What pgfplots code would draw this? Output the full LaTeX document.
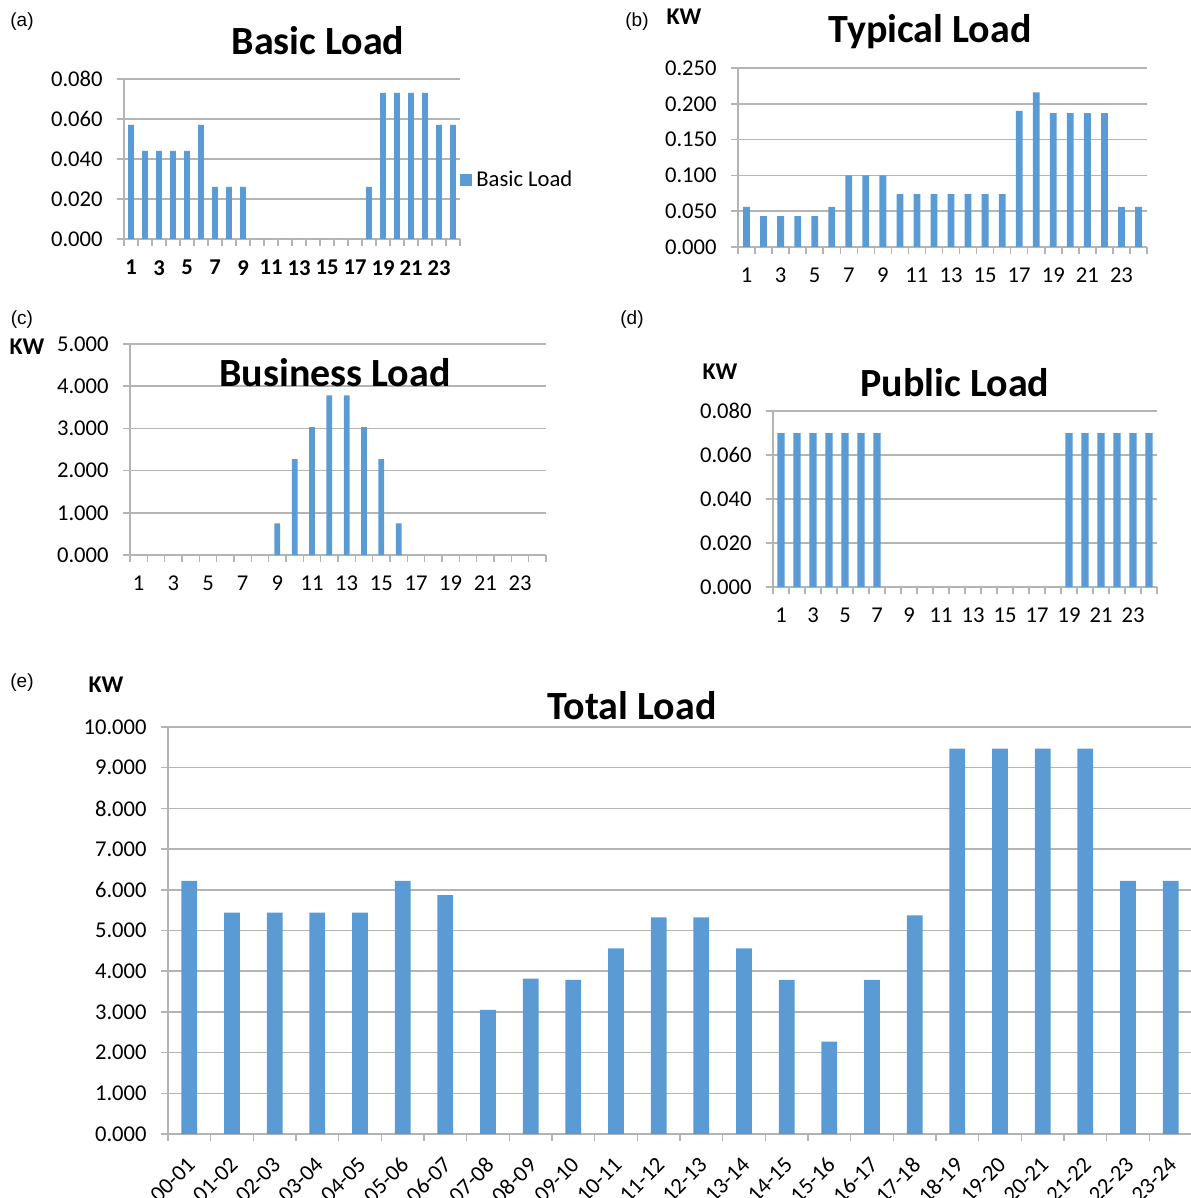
\documentclass[border=0pt]{standalone}
\usepackage{pgfplots}
\pgfplotsset{compat=1.18}
\usepackage{fontspec}
\setmainfont{Carlito}
\newfontfamily\arialfont{Liberation Sans}
\definecolor{barblue}{RGB}{91,155,213}
\definecolor{gridgray}{RGB}{180,180,180}
\newcommand{\tickfont}{\fontsize{11.3}{13}\selectfont}
\newcommand{\titlefont}{\fontsize{20}{24}\selectfont\bfseries}
\newcommand{\kwfont}{\fontsize{12}{14}\selectfont\bfseries}
\newcommand{\panelfont}{\arialfont\fontsize{9.5}{11}\selectfont}

\pgfplotsset{
  loadstyle/.style={
    scale only axis,
    anchor=south west,
    ybar, bar width=0.4,
    xmin=0.5, xmax=24.5, ymin=0,
    enlargelimits=false,
    scaled y ticks=false,
    axis x line*=bottom, axis y line*=left,
    axis line style={gridgray, line width=0.75pt},
    ymajorgrids, grid style={gridgray, line width=0.75pt},
    tick align=outside,
    major tick length=3.5pt,
    tick style={gridgray, line width=0.75pt},
    xtick={0.5,1.5,...,24.5}, xticklabels={},
    extra x ticks={1,3,...,23},
    extra x tick labels={1,3,5,7,9,11,13,15,17,19,21,23},
    extra x tick style={major tick length=0pt,
      xticklabel style={anchor=north, inner sep=0pt, yshift=-10.4pt}},
    tick label style={font=\tickfont},
    yticklabel style={anchor=east, inner sep=0pt, xshift=-7pt},
    /pgf/number format/assume math mode=true,
  },
}

\begin{document}
\begin{tikzpicture}
\useasboundingbox (0pt,0pt) rectangle (595pt,-599pt);

% (a) Basic Load
\begin{axis}[loadstyle, at={(62pt,-119.5pt)}, width=168pt, height=80pt,
  ymax=0.08, ytick={0,0.02,0.04,0.06,0.08},
  yticklabels={0.000,0.020,0.040,0.060,0.080},
  extra x tick labels={\textbf{1},\textbf{3},\textbf{5},\textbf{7},\textbf{9},\textbf{11},\textbf{13},\textbf{15},\textbf{17},\textbf{19},\textbf{21},\textbf{23}},
  legend style={draw=none, fill=none, at={(1,0.369)}, anchor=west,
    font=\tickfont, inner sep=0pt},
  ]
\addplot[fill=barblue, draw=none,
  legend image code/.code={\fill[barblue] (0pt,-3pt) rectangle (6pt,3pt);}]
  coordinates {(1,0.057) (2,0.044) (3,0.044) (4,0.044) (5,0.044) (6,0.057)
  (7,0.026) (8,0.026) (9,0.026) (10,0) (11,0) (12,0) (13,0) (14,0) (15,0)
  (16,0) (17,0) (18,0.026) (19,0.073) (20,0.073) (21,0.073) (22,0.073)
  (23,0.057) (24,0.057)};
\addlegendentry{Basic Load}
\end{axis}

% (b) Typical Load
\begin{axis}[loadstyle, at={(369pt,-123.5pt)}, width=204.5pt, height=89.5pt,
  ymax=0.25, ytick={0,0.05,0.1,0.15,0.2,0.25},
  yticklabels={0.000,0.050,0.100,0.150,0.200,0.250},
  ]
\addplot[fill=barblue, draw=none]
  coordinates {(1,0.056) (2,0.043) (3,0.043) (4,0.043) (5,0.043) (6,0.056)
  (7,0.100) (8,0.100) (9,0.100) (10,0.074) (11,0.074) (12,0.074) (13,0.074)
  (14,0.074) (15,0.074) (16,0.074) (17,0.190) (18,0.216) (19,0.187)
  (20,0.187) (21,0.187) (22,0.187) (23,0.056) (24,0.056)};
\end{axis}

% (c) Business Load
\begin{axis}[loadstyle, at={(65pt,-277.5pt)}, width=208pt, height=105.5pt,
  bar width=0.33,
  ymax=5, ytick={0,1,2,3,4,5},
  yticklabels={0.000,1.000,2.000,3.000,4.000,5.000},
  ]
\addplot[fill=barblue, draw=none]
  coordinates {(1,0) (2,0) (3,0) (4,0) (5,0) (6,0) (7,0) (8,0)
  (9,0.75) (10,2.27) (11,3.03) (12,3.78) (13,3.78) (14,3.03) (15,2.27)
  (16,0.75) (17,0) (18,0) (19,0) (20,0) (21,0) (22,0) (23,0) (24,0)};
\end{axis}

% (d) Public Load
\begin{axis}[loadstyle, at={(386.5pt,-293.5pt)}, width=192pt, height=88pt,
  bar width=0.45,
  ymax=0.08, ytick={0,0.02,0.04,0.06,0.08},
  yticklabels={0.000,0.020,0.040,0.060,0.080},
  ]
\addplot[fill=barblue, draw=none]
  coordinates {(1,0.070) (2,0.070) (3,0.070) (4,0.070) (5,0.070) (6,0.070)
  (7,0.070) (8,0) (9,0) (10,0) (11,0) (12,0) (13,0) (14,0) (15,0) (16,0)
  (17,0) (18,0) (19,0.070) (20,0.070) (21,0.070) (22,0.070) (23,0.070)
  (24,0.070)};
\end{axis}

% (e) Total Load
\begin{axis}[loadstyle, at={(84pt,-567pt)}, width=512pt, height=203.5pt,
  bar width=0.37,
  ymax=10, ytick={0,1,...,10},
  yticklabels={0.000,1.000,2.000,3.000,4.000,5.000,6.000,7.000,8.000,9.000,10.000},
  extra x ticks={1,2,...,24},
  extra x tick labels={00-01,01-02,02-03,03-04,04-05,05-06,06-07,07-08,08-09,09-10,10-11,11-12,12-13,13-14,14-15,15-16,16-17,17-18,18-19,19-20,20-21,21-22,22-23,23-24},
  extra x tick style={major tick length=0pt,
      xticklabel style={rotate=45, anchor=east, inner sep=0pt, yshift=-3pt, xshift=-1.5pt}},
  ]
\addplot[fill=barblue, draw=none]
  coordinates {(1,6.22) (2,5.44) (3,5.44) (4,5.44) (5,5.44) (6,6.22)
  (7,5.87) (8,3.05) (9,3.82) (10,3.79) (11,4.56) (12,5.32) (13,5.32)
  (14,4.56) (15,3.79) (16,2.27) (17,3.79) (18,5.37) (19,9.47) (20,9.47)
  (21,9.47) (22,9.47) (23,6.22) (24,6.22)};
\end{axis}

% panel letters, units and titles
\node[font=\panelfont] at (11pt,-11pt) {(a)};
\node[font=\panelfont] at (318.5pt,-11pt) {(b)};
\node[font=\panelfont] at (11pt,-160pt) {(c)};
\node[font=\panelfont] at (316pt,-160pt) {(d)};
\node[font=\panelfont] at (11pt,-341.5pt) {(e)};

\node[font=\kwfont] at (342pt,-8.5pt) {KW};
\node[font=\kwfont] at (13.5pt,-173.5pt) {KW};
\node[font=\kwfont] at (360pt,-186pt) {KW};
\node[font=\kwfont] at (53pt,-342.5pt) {KW};

\node[font=\titlefont] at (159pt,-20.5pt) {Basic Load};
\node[font=\titlefont] at (465pt,-16pt) {Typical Load};
\node[font=\titlefont] at (167.5pt,-186.5pt) {Business Load};
\node[font=\titlefont] at (477.5pt,-191.5pt) {Public Load};
\node[font=\titlefont] at (316pt,-353pt) {Total Load};
\end{tikzpicture}
\end{document}
